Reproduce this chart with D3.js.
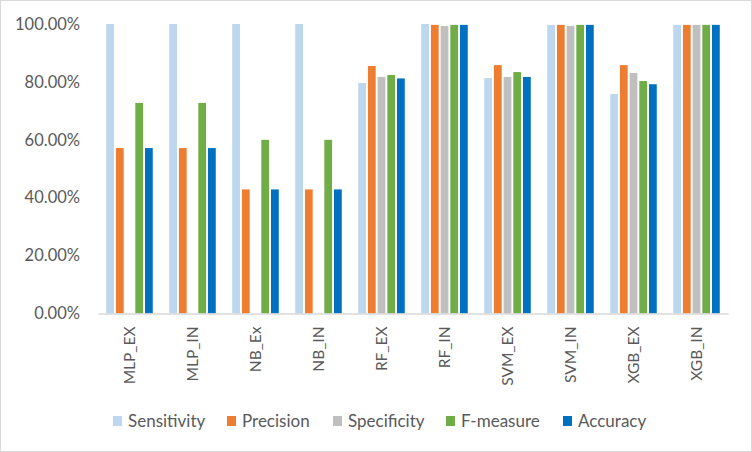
<!DOCTYPE html>
<html><head><meta charset="utf-8">
<script src="https://cdn.jsdelivr.net/npm/d3@7"></script>
<style>body{margin:0;background:#fff}svg{display:block}text{font-family:Lato,"Open Sans",sans-serif}</style>
</head><body>
<svg id="c" width="752" height="452"></svg>
<script>
const categories = ["MLP_EX","MLP_IN","NB_Ex","NB_IN","RF_EX","RF_IN","SVM_EX","SVM_IN","XGB_EX","XGB_IN"];
const seriesNames = ["Sensitivity","Precision","Specificity","F-measure","Accuracy"];
const seriesColors = ["#BDD7EE","#ED7D31","#BFBFBF","#70AD47","#0070C0"];
const sensitivity = [1.00,1.00,1.00,1.00,0.796,1.00,0.813,0.997,0.758,0.997];
const precision   = [0.5714,0.5714,0.4286,0.4286,0.855,0.997,0.858,0.997,0.858,0.997];
const specificity = [0,0,0,0,0.817,0.993,0.817,0.993,0.831,0.997];
const fmeasure    = [0.7273,0.7273,0.60,0.60,0.824,0.997,0.834,0.997,0.803,0.997];
const accuracy    = [0.5714,0.5714,0.4286,0.4286,0.812,0.997,0.817,0.997,0.792,0.997];
const yTicks = [0,0.2,0.4,0.6,0.8,1.0];

const series = [sensitivity,precision,specificity,fmeasure,accuracy];
const svg = d3.select("#c");
svg.append("rect").attr("x",0.5).attr("y",0.5).attr("width",751).attr("height",451)
  .attr("fill","#fff").attr("stroke","#d9d9d9");

const x0 = d3.scaleBand().domain(categories).range([98,728]).paddingInner(0).paddingOuter(0);
const x1 = d3.scaleBand().domain(seriesNames).range([0,x0.bandwidth()]).paddingOuter(0.85).paddingInner(0.2);
const y = d3.scaleLinear().domain([0,1]).range([313.5,24]);

const g = svg.append("g");
categories.forEach((c,i)=>{
  seriesNames.forEach((s,j)=>{
    const v = series[j][i];
    if(v<=0) return;
    g.append("rect")
      .attr("x",x0(c)+x1(s))
      .attr("width",x1.bandwidth())
      .attr("y",y(v))
      .attr("height",y(0)-y(v))
      .attr("fill",seriesColors[j]);
  });
});

// y axis labels
const yAxis = svg.append("g").attr("transform","translate(80,0)")
  .call(d3.axisLeft(y).tickValues(yTicks).tickSize(0).tickPadding(0).tickFormat(d=>(d*100).toFixed(2)+"%"));
yAxis.select(".domain").remove();
yAxis.selectAll("text").attr("fill","#595959").style("font-size","16.5px");

// x axis
const xAxis = svg.append("g").attr("transform",`translate(0,${y(0)})`)
  .call(d3.axisBottom(x0).tickSize(0).tickPadding(0));
xAxis.select(".domain").attr("stroke","#d9d9d9").attr("stroke-width",1.5);
xAxis.selectAll("text")
  .attr("fill","#595959").style("font-size","15.5px")
  .attr("transform","rotate(-90)")
  .attr("text-anchor","end")
  .attr("x",-13).attr("y",0).attr("dy","0.35em");

// legend
const legendX = [113,227,333,446,563];
const lg = svg.append("g");
seriesNames.forEach((s,j)=>{
  lg.append("rect").attr("x",legendX[j]).attr("y",416).attr("width",9).attr("height",10).attr("fill",seriesColors[j]);
  lg.append("text").attr("x",legendX[j]+15).attr("y",421).attr("dy","0.36em")
    .attr("fill","#595959").style("font-size","17px").text(s);
});
</script>
</body></html>
